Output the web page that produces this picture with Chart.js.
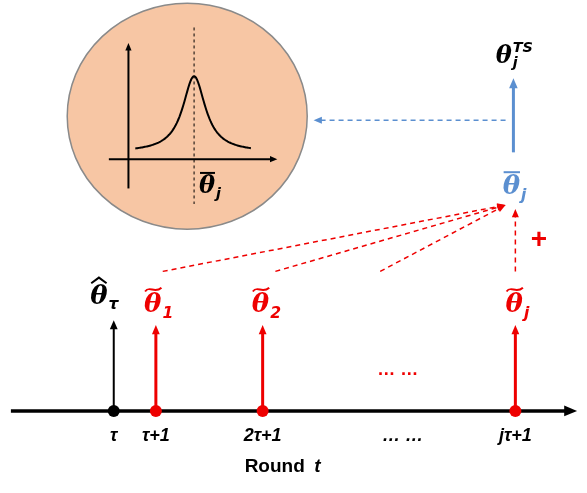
<!DOCTYPE html>
<html><head><meta charset="utf-8">
<script src="https://cdn.jsdelivr.net/npm/chart.js@4"></script>
<style>html,body{margin:0;padding:0;background:#fff}#w{width:587px;height:493px}</style>
</head><body><div id="w"><canvas id="c"></canvas></div>
<script>
const roundLabels=["τ","τ+1","2τ+1","… …","jτ+1"];
const roundPos=[110,153,262,405,520];
const estimateNames=["θ̂τ","θ̃1","θ̃2","θ̃j"];
const estimatePos=[110,153,262,520];
const estimateColors=["#000","#e00","#e00","#e00"];
const axisY=415;
function ar(ctx,x1,y1,x2,y2,col,w,dash,hs){
  ctx.save();ctx.strokeStyle=col;ctx.fillStyle=col;ctx.lineWidth=w;ctx.setLineDash(dash||[]);
  const a=Math.atan2(y2-y1,x2-x1);hs=hs||9;
  ctx.beginPath();ctx.moveTo(x1,y1);ctx.lineTo(x2-Math.cos(a)*hs*0.8,y2-Math.sin(a)*hs*0.8);ctx.stroke();
  ctx.setLineDash([]);ctx.beginPath();ctx.moveTo(x2,y2);
  ctx.lineTo(x2-hs*Math.cos(a-0.4),y2-hs*Math.sin(a-0.4));
  ctx.lineTo(x2-hs*Math.cos(a+0.4),y2-hs*Math.sin(a+0.4));ctx.closePath();ctx.fill();ctx.restore();
}
function theta(ctx,x,y,mark,sub,col,size,sup){
  ctx.save();ctx.fillStyle=col;ctx.strokeStyle=col;
  ctx.font="bold italic "+size+"px 'DejaVu Serif'";ctx.textBaseline="alphabetic";ctx.textAlign="left";
  const w=ctx.measureText("θ").width;ctx.fillText("θ",x,y);
  ctx.lineWidth=2;
  if(mark==="bar"){ctx.beginPath();ctx.moveTo(x+1,y-size*0.85);ctx.lineTo(x+w,y-size*0.85);ctx.stroke();}
  if(mark==="hat"){ctx.beginPath();ctx.moveTo(x+1,y-size*0.78);ctx.lineTo(x+w/2,y-size*1.0);ctx.lineTo(x+w-1,y-size*0.78);ctx.stroke();}
  if(mark==="tilde"){ctx.beginPath();ctx.moveTo(x+1,y-size*0.8);ctx.bezierCurveTo(x+w*0.3,y-size*1.05,x+w*0.6,y-size*0.7,x+w,y-size*0.95);ctx.stroke();}
  ctx.font="bold italic "+(size*0.6)+"px 'DejaVu Sans'";
  ctx.fillText(sub,x+w+1,y+size*0.2);
  if(sup){ctx.fillText(sup,x+w+1,y-size*0.45);}
  ctx.restore();
}
const diagram={id:"d",beforeDatasetsDraw(ch){
  const ctx=ch.ctx,X=v=>ch.scales.x.getPixelForValue(v),Y=v=>ch.scales.y.getPixelForValue(v);
  ctx.save();ctx.beginPath();ctx.ellipse(X(185),Y(113),120,113,0,0,Math.PI*2);ctx.fillStyle="#f7c6a4";ctx.fill();
  ctx.strokeStyle="#8a8a8a";ctx.lineWidth=1.5;ctx.stroke();ctx.restore();
  ar(ctx,X(125),Y(187),X(125),Y(38),"#000",2,null,8);
  ar(ctx,X(105),Y(157),X(277),Y(157),"#000",2,null,8);
  ctx.save();ctx.setLineDash([3,3]);ctx.strokeStyle="#000";ctx.lineWidth=1;ctx.beginPath();ctx.moveTo(X(192),Y(22));ctx.lineTo(X(192),Y(203));ctx.stroke();ctx.restore();
  ctx.save();ctx.strokeStyle="#000";ctx.lineWidth=2;ctx.beginPath();
  for(let i=0;i<=120;i++){const xv=132+i*(250-132)/120;const d=(xv-192)/14;const yv=150-78/(1+d*d);i?ctx.lineTo(X(xv),Y(yv)):ctx.moveTo(X(xv),Y(yv));}
  ctx.stroke();ctx.restore();
  theta(ctx,X(197),Y(192),"bar","j","#000",24);
  ar(ctx,X(5),Y(axisY),X(583),Y(axisY),"#000",3.5,null,14);
  estimatePos.forEach((p,i)=>ar(ctx,X(p),Y(axisY),X(p),Y(i?327:322),i?"#e00":"#000",i?3:2,null,10));
  ctx.save();ctx.font="bold italic 18px 'Liberation Sans'";ctx.textAlign="center";ctx.fillStyle="#000";
  roundLabels.forEach((l,i)=>ctx.fillText(l,X(roundPos[i]),Y(446)));
  ctx.font="bold 19px 'Liberation Sans'";ctx.fillText("Round ",X(277),Y(478));
  ctx.font="bold italic 19px 'Liberation Sans'";ctx.fillText("t",X(318),Y(478));
  ctx.fillStyle="#e00";ctx.font="bold 18px 'Liberation Sans'";ctx.fillText("… …",X(400),Y(378));
  ctx.font="bold 28px 'Liberation Sans'";ctx.fillText("+",X(544),Y(248));ctx.restore();
  theta(ctx,X(86),Y(305),"hat","τ","#000",26);
  theta(ctx,X(141),Y(314),"tilde","1","#e00",26);
  theta(ctx,X(251),Y(314),"tilde","2","#e00",26);
  theta(ctx,X(510),Y(314),"tilde","j","#e00",26);
  [[160,272],[275,272],[382,272]].forEach(p=>ar(ctx,X(p[0]),Y(p[1]),X(510),Y(204),"#e00",1.5,[5,4],9));
  ar(ctx,X(520),Y(272),X(520),Y(208),"#e00",1.5,[5,4],9);
  theta(ctx,X(507),Y(193),"bar","j","#5b8fd0",26);
  ar(ctx,X(518),Y(150),X(518),Y(74),"#5b8fd0",3,null,11);
  ar(ctx,X(510),Y(117),X(314),Y(117),"#5b8fd0",1.5,[5,4],9);
  theta(ctx,X(500),Y(58),"","j","#000",24,"TS");
}};
new Chart(document.getElementById("c"),{type:"scatter",
 data:{datasets:[{data:roundPos.filter((p,i)=>i!==3).map(p=>({x:p,y:axisY})),
   pointRadius:6,pointBackgroundColor:["#000","#e00","#e00","#e00"],pointBorderWidth:0}]},
 options:{responsive:true,maintainAspectRatio:false,animation:false,layout:{padding:0},
  plugins:{legend:{display:false},tooltip:{enabled:false}},
  scales:{x:{type:"linear",min:0,max:587,display:false},y:{type:"linear",min:0,max:493,reverse:true,display:false}}},
 plugins:[diagram]});
</script></body></html>
